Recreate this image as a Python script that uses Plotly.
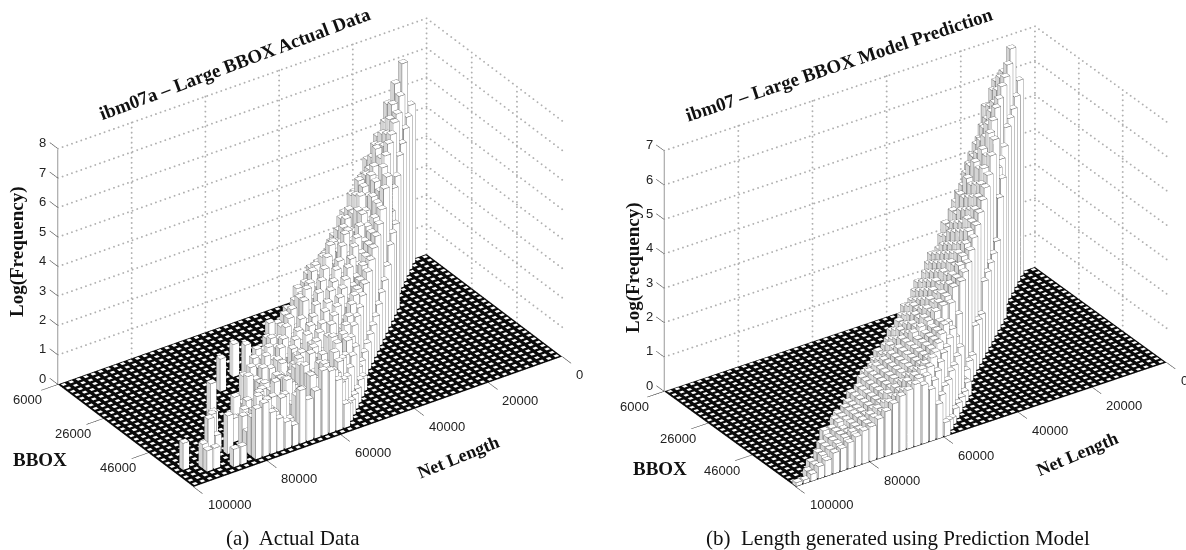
import math
import numpy as np
import plotly.graph_objects as go

# ---------- data ----------
bin_width = 2000
bbox_origin = 6000
n_net_bins = 50
n_bbox_bins = 30
net_ticks = [0, 20000, 40000, 60000, 80000, 100000]
net_labels = ["0", "20000", "40000", "60000", "80000", "100000"]
bbox_ticks = [6000, 26000, 46000]
bbox_labels = ["6000", "26000", "46000"]
z_ticks_a = [0, 1, 2, 3, 4, 5, 6, 7, 8]
z_ticks_b = [0, 1, 2, 3, 4, 5, 6, 7]

# first Net Length bin of every BBOX row
row_starts = [2, 3, 4, 5, 6, 7, 8, 9, 9, 10, 11, 12, 13, 14, 15, 16, 17, 18, 19, 20, 21, 22, 22, 23, 24, 25, 26, 27, 28, 29]

actual_rows = [
    [5.4, 6.9, 6.3, 5.7],
    [5.2, 6.0, 5.8, 5.3, 4.9],
    [5.0, 5.6, 5.5, 5.1, 4.8, 4.4],
    [4.7, 5.5, 5.2, 4.9, 4.6, 4.1],
    [4.5, 5.3, 5.0, 5.0, 4.4, 4.2, 3.8],
    [4.0, 5.2, 4.8, 4.6, 4.4, 4.3, 3.9, 3.4],
    [3.8, 5.0, 4.3, 4.5, 4.2, 4.0, 3.6, 3.4, 2.9],
    [3.2, 4.8, 4.4, 4.0, 4.1, 3.6, 3.5, 3.2, 2.9, 2.5],
    [2.9, 4.6, 4.2, 4.1, 3.7, 3.8, 3.2, 3.4, 3.0, 2.8, 2.5],
    [2.8, 4.4, 4.0, 3.5, 3.8, 3.3, 3.4, 3.1, 3.2, 2.9, 2.7, 2.6],
    [2.6, 3.9, 3.7, 3.5, 3.6, 3.2, 3.5, 3.0, 3.3, 3.0, 2.8, 2.6, 0, 0, 0, 0, 0, 0, 0, 0, 0, 1.1],
    [2.1, 3.6, 3.4, 3.2, 3.4, 2.9, 3.3, 2.8, 3.1, 2.6, 2.8, 2.5, 2.4, 0, 0, 0, 0, 0, 0, 1.1],
    [1.8, 3.4, 3.2, 3.0, 3.3, 2.7, 3.0, 2.5, 2.9, 2.4, 2.6, 2.3, 2.2, 2.0, 0, 0, 0, 0, 0, 0, 0, 0, 1.1],
    [1.6, 3.2, 3.0, 2.8, 3.1, 2.6, 2.9, 2.3, 2.7, 2.2, 2.6, 2.4, 2.1, 2.0, 1.8, 1.9],
    [1.4, 3.0, 2.9, 2.6, 3.0, 2.4, 2.7, 2.1, 2.5, 1.9, 2.4, 1.6, 2.0, 1.8, 1.5, 1.6],
    [1.2, 2.8, 2.6, 2.5, 2.8, 2.2, 2.6, 1.9, 2.3, 1.8, 2.0, 1.5, 1.9, 1.6, 1.7, 1.4, 1.5],
    [1.1, 2.6, 2.5, 2.3, 2.7, 2.1, 2.4, 1.7, 2.1, 1.6, 1.8, 1.4, 1.7, 1.5, 1.6, 1.3, 1.4],
    [1.0, 2.4, 2.5, 2.2, 2.6, 1.9, 2.3, 1.8, 2.0, 1.5, 1.7, 1.2, 1.6, 1.3, 1.5, 1.2, 1.3, 1.1],
    [0.9, 2.2, 2.4, 2.0, 2.5, 1.8, 2.1, 1.6, 1.9, 1.4, 1.6, 1.1, 1.4, 1.2, 1.3, 1.0, 1.2, 0, 0, 0, 0, 1.4],
    [0.8, 2.1, 2.2, 1.9, 2.4, 1.6, 2.0, 1.7, 1.3, 1.5, 1.2, 1.4, 0.9, 0, 1.0],
    [0.7, 2.0, 2.1, 1.8, 2.3, 1.5, 1.9, 1.3, 1.7, 1.4, 1.0, 1.2, 0.9, 1.1, 0, 0, 0.7, 1.0, 0, 0, 0.75],
    [0.7, 1.8, 2.0, 1.6, 2.1, 1.5, 1.9, 1.2, 1.7, 1.3, 1.0, 1.4, 0.8, 1.1, 0, 0.9],
    [0.5, 1.6, 1.9, 1.5, 2.2, 1.4, 1.7, 1.9, 1.2, 1.6, 1.0, 1.4, 1.1, 0.9, 1.2, 0, 0.8, 0.6],
    [0.6, 1.5, 1.6, 2.1, 1.3, 1.9, 1.4, 1.1, 1.8, 1.2, 1.5, 1.0, 1.3, 0.8, 1.1, 0, 0.7, 0.8, 0, 0, 1.2],
    [0.5, 1.3, 1.7, 2.0, 1.4, 1.8, 1.2, 1.9, 1.0, 1.5, 1.2, 1.7, 0.9, 1.3, 1.0, 0.9, 0, 0, 0, 0.6, 1.25],
    [0.5, 1.2, 1.8, 1.5, 1.9, 1.1, 1.7, 1.3, 1.0, 1.8, 0.9, 1.4, 1.2, 1.6, 0.8, 1.1, 0, 1.3, 0, 0, 0, 0, 0, 0.9],
    [0.5, 1.3, 1.6, 1.8, 1.2, 1.7, 0.9, 1.4, 1.1, 1.5, 0.8, 1.2, 1.0, 0, 0.7, 0, 0, 0, 0, 0, 0.8],
    [0.6, 1.4, 1.9, 1.8, 1.3, 2.0, 1.1, 1.5, 0.8, 1.6, 1.2, 1.7, 0.9, 1.3, 0, 0, 0, 0, 0.7, 0.7],
    [0.8, 1.7, 2.1, 2.2, 1.6, 1.4, 1.8, 0.7, 0.9, 1.1, 1.4, 1.8, 1.7, 0, 0.6, 0.6],
    [],
]

pred_rows = [
    [5.7, 6.7, 6.1, 5.9],
    [5.4, 6.4, 6.1, 5.8, 5.4],
    [5.2, 6.2, 5.9, 5.5, 5.0],
    [5.1, 6.1, 5.7, 5.3, 4.8, 4.4],
    [5.0, 5.9, 5.6, 5.2, 4.8, 4.3],
    [4.6, 5.8, 5.4, 5.0, 4.6, 4.2, 3.7],
    [4.4, 5.6, 5.2, 4.8, 4.5, 4.0, 3.6],
    [4.3, 5.4, 5.0, 4.7, 4.3, 3.9, 3.5, 3.2],
    [4.1, 5.3, 4.9, 4.6, 4.2, 3.9, 3.5, 3.2, 3.0],
    [3.7, 5.0, 4.7, 4.3, 4.0, 3.7, 3.4, 3.1, 2.8, 2.7],
    [2.6, 4.6, 4.4, 4.1, 3.8, 3.5, 3.3, 3.0, 2.8, 2.6],
    [2.4, 4.4, 4.2, 3.9, 3.6, 3.4, 3.1, 2.9, 2.7, 2.5, 2.3],
    [2.3, 4.2, 4.0, 3.8, 3.5, 3.2, 3.0, 2.8, 2.6, 2.4, 2.2],
    [2.2, 4.0, 3.8, 3.6, 3.3, 3.1, 2.9, 2.7, 2.5, 2.3, 2.1, 2.0],
    [2.1, 3.8, 3.7, 3.4, 3.2, 3.0, 2.8, 2.6, 2.4, 2.2, 2.1, 1.9],
    [1.3, 3.6, 3.5, 3.3, 3.1, 2.9, 2.7, 2.5, 2.3, 2.2, 2.0, 1.9, 1.7],
    [1.3, 3.4, 3.3, 3.1, 2.9, 2.7, 2.6, 2.4, 2.2, 2.1, 1.9, 1.8, 1.6],
    [1.3, 3.2, 3.2, 3.0, 2.8, 2.6, 2.5, 2.3, 2.2, 2.0, 1.9, 1.7, 1.6, 1.5],
    [0.6, 3.1, 3.0, 2.9, 2.7, 2.5, 2.4, 2.2, 2.1, 1.9, 1.8, 1.7, 1.5, 1.4],
    [0.6, 3.0, 2.9, 2.7, 2.6, 2.4, 2.3, 2.1, 2.0, 1.9, 1.7, 1.6, 1.5, 1.4, 1.3],
    [0.5, 2.2, 2.6, 2.6, 2.5, 2.3, 2.2, 2.1, 1.9, 1.8, 1.7, 1.6, 1.5, 1.4, 1.3],
    [0.4, 1.7, 2.2, 2.3, 2.2, 2.1, 2.0, 1.9, 1.8, 1.7, 1.6, 1.5, 1.4, 1.3, 1.2, 1.1],
    [0.4, 1.5, 2.1, 2.3, 2.2, 2.1, 2.0, 1.9, 1.8, 1.7, 1.6, 1.5, 1.4, 1.3, 1.2, 1.1, 1.0],
    [0.3, 1.4, 2.0, 2.2, 2.1, 2.0, 1.9, 1.8, 1.7, 1.6, 1.5, 1.4, 1.3, 1.2, 1.1, 1.0, 1.0, 0.9],
    [0.3, 1.3, 1.9, 2.1, 2.0, 1.9, 1.8, 1.7, 1.6, 1.5, 1.4, 1.3, 1.2, 1.1, 1.0, 1.0, 0.9, 0.9],
    [0.3, 1.3, 1.9, 2.0, 1.9, 1.8, 1.7, 1.6, 1.5, 1.4, 1.3, 1.2, 1.1, 1.0, 1.0, 0.9, 0.9, 0.8, 0.8],
    [0.3, 1.2, 1.8, 2.0, 1.9, 1.8, 1.7, 1.6, 1.5, 1.4, 1.2, 1.1, 1.0, 1.0, 0.9, 0.8, 0.8, 0.7, 0.6],
    [0.2, 1.2, 1.7, 1.9, 1.9, 1.8, 1.7, 1.5, 1.4, 1.3, 1.2, 1.1, 1.0, 0.9, 0.8, 0.8, 0.7, 0.6, 0.5, 0.3],
    [0.3, 1.1, 1.6, 1.8, 1.8, 1.7, 1.6, 1.5, 1.4, 1.2, 1.1, 1.0, 0.9, 0.9, 0.8, 0.7, 0.6, 0.5, 0.3, 0.2],
    [0.4, 1.0, 1.5, 1.7, 1.8, 1.7, 1.6, 1.45, 1.3, 1.15, 1.0, 0.95, 0.85, 0.75, 0.65, 0.6, 0.45, 0.35, 0.2, 0.1, 0.1],
]

# ---------- geometry helpers ----------
x_lo, x_hi = 0, n_net_bins * bin_width
y_lo, y_hi = bbox_origin, bbox_origin + n_bbox_bins * bin_width
x_range = [-6000, 106000]
y_range = [0, 72000]
BAR = 0.8
PX_PER_UNIT = 276.4


def quad_mesh(quads):
    xs, ys, zs, i, j, k = [], [], [], [], [], []
    for q in quads:
        n = len(xs)
        for p in q:
            xs.append(p[0]); ys.append(p[1]); zs.append(p[2])
        i += [n, n]; j += [n + 1, n + 2]; k += [n + 2, n + 3]
    return xs, ys, zs, i, j, k


def mesh_trace(quads, color, scene):
    xs, ys, zs, i, j, k = quad_mesh(quads)
    return go.Mesh3d(x=xs, y=ys, z=zs, i=i, j=j, k=k, color=color, flatshading=True,
                     lighting=dict(ambient=1, diffuse=0, specular=0, fresnel=0, roughness=1),
                     hoverinfo="skip", showscale=False, scene=scene)


def line_trace(points, color, width, scene):
    xs, ys, zs = [], [], []
    for a, b in points:
        xs += [a[0], b[0], None]; ys += [a[1], b[1], None]; zs += [a[2], b[2], None]
    return go.Scatter3d(x=xs, y=ys, z=zs, mode="lines", line=dict(color=color, width=width),
                        hoverinfo="skip", showlegend=False, scene=scene)


def dotted_trace(segments, scene):
    xs, ys, zs = [], [], []
    for a, b, n in segments:
        xs += list(np.linspace(a[0], b[0], n))
        ys += list(np.linspace(a[1], b[1], n))
        zs += list(np.linspace(a[2], b[2], n))
    return go.Scatter3d(x=xs, y=ys, z=zs, mode="markers",
                        marker=dict(size=1.1, color="#b0b0b0", line=dict(width=0)),
                        hoverinfo="skip", showlegend=False, scene=scene)


def panel(rows, z_ticks, scene):
    zmax = z_ticks[-1]
    eps = 0.012
    traces = []
    traces.append(mesh_trace([[(x_lo, y_lo, 0), (x_hi, y_lo, 0), (x_hi, y_hi, 0), (x_lo, y_hi, 0)]], "#0a0a0a", scene))
    white, gray, edges = [], [], []
    m = (1 - 0.5) / 2 * bin_width
    for a in range(n_net_bins):
        for b in range(n_bbox_bins):
            x0, x1 = a * bin_width + m, (a + 1) * bin_width - m
            y0, y1 = y_lo + b * bin_width + m, y_lo + (b + 1) * bin_width - m
            white.append([(x0, y0, eps), (x1, y0, eps), (x1, y1, eps), (x0, y1, eps)])
    m = (1 - BAR) / 2 * bin_width
    for b, row in enumerate(rows):
        for n, h in enumerate(row):
            if h <= 0:
                continue
            a = row_starts[b] + n
            x0, x1 = a * bin_width + m, (a + 1) * bin_width - m
            y0, y1 = y_lo + b * bin_width + m, y_lo + (b + 1) * bin_width - m
            white.append([(x0, y0, h), (x1, y0, h), (x1, y1, h), (x0, y1, h)])
            white.append([(x0, y1, 0), (x1, y1, 0), (x1, y1, h), (x0, y1, h)])
            gray.append([(x1, y0, 0), (x1, y1, 0), (x1, y1, h), (x1, y0, h)])
            white.append([(x0, y0, 0), (x1, y0, 0), (x1, y0, h), (x0, y0, h)])
            gray.append([(x0, y0, 0), (x0, y1, 0), (x0, y1, h), (x0, y0, h)])
            for p, q in [((x0, y0, h), (x1, y0, h)), ((x1, y0, h), (x1, y1, h)),
                         ((x1, y1, h), (x0, y1, h)), ((x0, y1, h), (x0, y0, h)),
                         ((x1, y1, 0), (x1, y1, h)), ((x0, y1, 0), (x0, y1, h)),
                         ((x1, y0, 0), (x1, y0, h)), ((x0, y1, 0), (x1, y1, 0)),
                         ((x1, y0, 0), (x1, y1, 0))]:
                edges.append((p, q))
    traces.append(mesh_trace(white, "#ffffff", scene))
    traces.append(mesh_trace(gray, "#d4d4d4", scene))
    traces.append(line_trace(edges, "#3a3a3a", 1, scene))
    grid = []
    for z in z_ticks[1:]:
        grid.append(((x_hi, y_lo, z), (x_lo, y_lo, z), 80))
        grid.append(((x_lo, y_lo, z), (x_lo, y_hi, z), 34))
    for x in net_ticks[:-1]:
        grid.append(((x, y_lo, 0), (x, y_lo, zmax), 48))
    for y in bbox_ticks[1:]:
        grid.append(((x_lo, y, 0), (x_lo, y, zmax), 48))
    traces.append(dotted_trace(grid, scene))
    ticks = [((x_hi, y_lo, 0), (x_hi, y_lo, zmax))]
    for z in z_ticks:
        ticks.append(((x_hi, y_lo, z), (x_hi, y_lo - 3600, z)))
    for y in bbox_ticks:
        ticks.append(((x_hi, y, 0), (x_hi + 4500, y, 0)))
    for x in net_ticks:
        ticks.append(((x, y_hi, 0), (x, y_hi + 4000, 0)))
    traces.append(line_trace(ticks, "#333333", 1, scene))
    return traces


def scene_layout(corner_l, corner_b, corner_r, corner_k, zpix, z_ticks, dom):
    # corners: pixel positions of the floor; derive an orthographic camera from them
    vx = (corner_b[0] - corner_r[0], corner_b[1] - corner_r[1])
    vy = (corner_b[0] - corner_l[0], corner_b[1] - corner_l[1])
    t = math.atan(math.sqrt((-vx[0] / vx[1]) * (vy[1] / vy[0])))
    sp = (vy[1] / vy[0]) / math.tan(t)
    ph = math.asin(sp)
    sx = -vx[0] / math.sin(t)
    sy = vy[0] / math.cos(t)
    sz = zpix / math.cos(ph)
    K = PX_PER_UNIT
    asp = dict(x=sx * (x_range[1] - x_range[0]) / (x_hi - x_lo) / K,
               y=sy * (y_range[1] - y_range[0]) / (y_hi - y_lo) / K,
               z=sz / K)
    r = (-math.sin(t), math.cos(t), 0)
    u = (-sp * math.cos(t), -sp * math.sin(t), math.cos(ph))
    e = (math.cos(ph) * math.cos(t), math.cos(ph) * math.sin(t), sp)
    d = 275 / K
    cx = (corner_l[0] + corner_r[0]) / 2
    cy = (corner_l[1] + corner_r[1]) / 2 - zpix / 2
    dx = cx - (dom[0] + dom[1]) / 2 * 1186
    dy = 275 - cy
    c = [-(dx / K) * r[n] - (dy / K) * u[n] for n in range(3)]
    eye = [c[n] + d * e[n] for n in range(3)]
    hidden = dict(visible=False, showgrid=False, zeroline=False, showticklabels=False, showbackground=False)
    anns = []
    tick_font = dict(family="Liberation Sans", size=13, color="#222222")
    for z in z_ticks:
        anns.append(dict(x=x_hi, y=y_lo, z=z, text=str(z), showarrow=False, xshift=-15, yshift=6, font=tick_font))
    for y, t_ in zip(bbox_ticks, bbox_labels):
        anns.append(dict(x=x_hi, y=y, z=0, text=t_, showarrow=False, xshift=-30, yshift=-15, font=tick_font))
    for x, t_ in zip(net_ticks, net_labels):
        anns.append(dict(x=x, y=y_hi, z=0, text=t_, showarrow=False, xanchor="left", xshift=12, yshift=-18, font=tick_font))
    return dict(domain=dict(x=list(dom), y=[0, 1]),
                xaxis=dict(range=x_range, **hidden),
                yaxis=dict(range=y_range, **hidden),
                zaxis=dict(range=[-0.001, z_ticks[-1] + 0.001], **hidden),
                aspectmode="manual", aspectratio=asp,
                camera=dict(projection=dict(type="orthographic"), up=dict(x=0, y=0, z=1),
                            center=dict(x=c[0], y=c[1], z=c[2]),
                            eye=dict(x=eye[0], y=eye[1], z=eye[2])),
                annotations=anns, bgcolor="rgba(0,0,0,0)")


fig = go.Figure()
for tr in panel(actual_rows, z_ticks_a, "scene"):
    fig.add_trace(tr)
for tr in panel(pred_rows, z_ticks_b, "scene2"):
    fig.add_trace(tr)

serif = "Liberation Serif"
bold = dict(family=serif, size=19, color="#111111")
net_font = dict(family=serif, size=18, color="#111111")
cap_font = dict(family=serif, size=21, color="#111111")


def note(px, py, text, angle=0, font=bold):
    return dict(x=px / 1186, y=1 - py / 550, xref="paper", yref="paper", text=text, showarrow=False,
                textangle=angle, font=font, xanchor="center", yanchor="middle")


annotations = [
    note(235, 64, "<b>ibm07a – Large BBOX Actual Data</b>", -20.6),
    note(839, 65, "<b>ibm07 – Large BBOX Model Prediction</b>", -18.5),
    note(17, 252, "<b>Log(Frequency)</b>", -90),
    note(633, 268, "<b>Log(Frequency)</b>", -90),
    note(40, 459, "<b>BBOX</b>"),
    note(660.5, 468, "<b>BBOX</b>"),
    note(458.5, 457, "<b>Net Length</b>", -22, net_font),
    note(1077, 454, "<b>Net Length</b>", -23, net_font),
    note(293, 538, "(a)  Actual Data", 0, cap_font),
    note(898, 538, "(b)  Length generated using Prediction Model", 0, cap_font),
]

fig.update_layout(
    width=1186, height=550, margin=dict(l=0, r=0, t=0, b=0), showlegend=False,
    paper_bgcolor="white",
    scene=scene_layout((56.7, 385), (193, 488), (563.5, 357), (425.5, 252), 237, z_ticks_a, (0, 0.5)),
    scene2=scene_layout((663, 392), (795.3, 488), (1168, 363), (1032, 267), 242, z_ticks_b, (0.5, 1)),
    annotations=annotations,
)
fig.write_html("out.html", config={"displayModeBar": False},
               post_script="document.body.style.margin='0';document.body.style.overflow='hidden';")
